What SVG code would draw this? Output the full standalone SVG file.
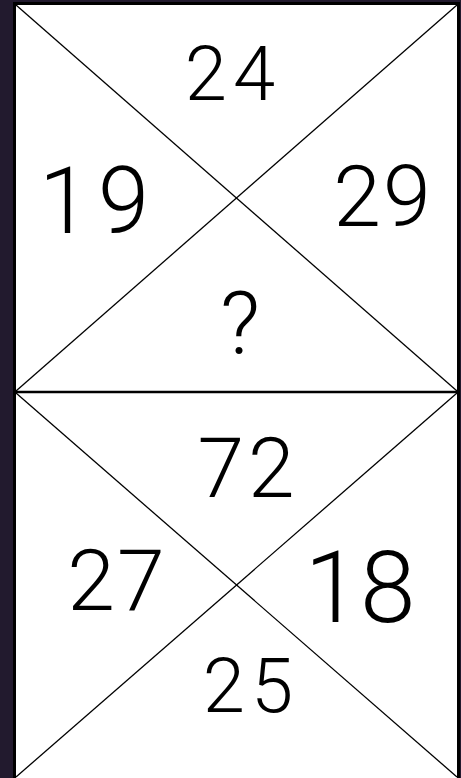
<svg xmlns="http://www.w3.org/2000/svg" width="461" height="778" viewBox="0 0 461 778">
<style>
.bg{fill:#221a2e}
.box{fill:#ffffff;stroke:#000;stroke-width:3}
.ln{stroke:#000;stroke-width:1.3;fill:none}
.mid{stroke:#000;stroke-width:2.5}
.num{font-family:"Roboto","Liberation Sans","DejaVu Sans",sans-serif;fill:#000;text-anchor:middle;font-weight:300}
</style>
<rect class="bg" x="0" y="0" width="461" height="778"/>
<g id="frame">
<rect class="box" x="14.5" y="3.5" width="444" height="776"/>
</g>
<g id="connectors">
<line class="ln" x1="16" y1="5" x2="457" y2="391"/>
<line class="ln" x1="457" y1="5" x2="16" y2="391"/>
<line class="mid" x1="16" y1="392" x2="457" y2="392"/>
<line class="ln" x1="16" y1="393" x2="457" y2="777"/>
<line class="ln" x1="457" y1="393" x2="16" y2="777"/>
</g>
<g id="top-box">
<text class="num" x="233" y="100" font-size="76" letter-spacing="6">24</text>
<text class="num" x="98" y="233" font-size="92" letter-spacing="8">19</text>
<text class="num" x="383" y="226" font-size="86" letter-spacing="2">29</text>
<text class="num" x="240" y="354" font-size="88">?</text>
</g>
<g id="bottom-box">
<text class="num" x="248" y="497" font-size="84" letter-spacing="4">72</text>
<text class="num" x="117" y="610" font-size="86" letter-spacing="2">27</text>
<text class="num" x="360" y="622" font-size="100">18</text>
<text class="num" x="251" y="712" font-size="76" letter-spacing="6">25</text>
</g>
</svg>
